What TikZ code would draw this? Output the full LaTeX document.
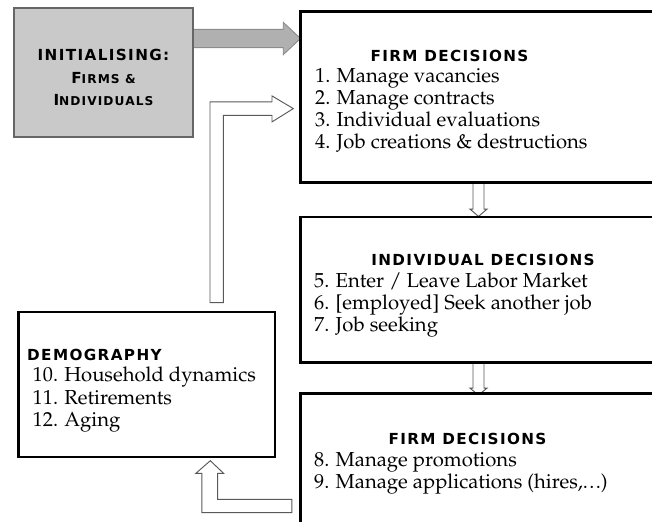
\documentclass[tikz,border=0pt]{standalone}
\usepackage{fontspec}
\usepackage[T1]{fontenc}
\usepackage{mathpazo}
\newfontfamily\capsfont[LetterSpace=9]{DejaVu Sans}
\usetikzlibrary{fit,backgrounds}

\newcommand{\smallcap}[2]{#1{\fontsize{10.4}{11}\selectfont #2}}

\tikzset{
  box/.style={draw, line width=2.4pt, fill=white, inner sep=0pt},
  initbox/.style={draw=black!60, line width=0.9pt, fill=black!21, inner sep=0pt},
  title/.style={font=\capsfont\bfseries\fontsize{13}{14}\selectfont, inner sep=0pt, anchor=base},
  item/.style={font=\fontsize{17.3}{18.8}\selectfont, inner sep=0pt, anchor=base west},
  hollow/.style={draw=black!65, line width=0.8pt, fill=white},
  grayarrow/.style={draw=black!45, line width=0.8pt, fill=black!31}
}

\begin{document}
\begin{tikzpicture}[x=0.03cm, y=-0.03cm]
    \clip (0,0) rectangle (652,521);

    \node[initbox, fit={(14,8) (193,137)}] (init) {};
    \node[box, fit={(300.5,11.7) (700,182.7)}] (firm1) {};
    \node[box, fit={(300.5,217) (700,362.7)}] (indiv) {};
    \node[box, fit={(300.5,393.5) (700,560)}] (firm2) {};
    \node[box, fit={(18.5,312) (275,457)}] (demo) {};

    \node[title] (inith1) at (103.5,60) {INITIALISING:};
    \node[title] (inith2) at (103.5,83.3) {\smallcap{F}{IRMS \&}};
    \node[title] (inith3) at (103.5,105) {\smallcap{I}{NDIVIDUALS}};

    \node[title] (firm1h) at (449.5,61) {FIRM DECISIONS};
    \foreach \t [count=\i] in {1. Manage vacancies, 2. Manage contracts, 3. Individual evaluations, {4. Job creations \& destructions}}
        \node[item] (fd\i) at (315,60.7+22*\i) {\t};

    \node[title] (indivh) at (483,265) {INDIVIDUAL DECISIONS};
    \foreach \t [count=\i] in {{5. Enter / Leave Labor Market}, {6. [employed] Seek another job}, {7. Job seeking}}
        \node[item] (id\i) at (314,265.3+22*\i) {\t};

    \node[title] (firm2h) at (467.5,444) {FIRM DECISIONS};
    \foreach \t [count=\i] in {{8. Manage promotions}, {9. Manage applications (hires,.\kern1.2pt.\kern1.2pt.)}}
        \node[item] (fp\i) at (314,444.5+22.2*\i) {\t};

    \node[title, anchor=base west] (demoh) at (27,360) {DEMOGRAPHY};
    \foreach \t [count=\i] in {{10. Household dynamics}, {11. Retirements}, {12. Aging}}
        \node[item] (dm\i) at (32.5,359.5+22.4*\i) {\t};

    \coordinate (colA) at (478.5,0);
    \coordinate (colD) at (210,0);
    \coordinate (rowC) at (0,38.5);
    \coordinate (rowE) at (0,499.3);

    \begin{scope}[on background layer]
        \draw[grayarrow] (init.east |- rowC) ++(-1,-9.2) -- ++(90.7,0) -- ++(0,-7) -- ++(17.3,16.2)
            -- ++(-17.3,16.2) -- ++(0,-7) -- ++(-90.7,0) -- cycle;
        \draw[hollow] (colA |- firm1.south) ++(-5.5,-2) -- ++(0,27) -- ++(-3,0) -- ++(8.5,7.3)
            -- ++(8.5,-7.3) -- ++(-3,0) -- ++(0,-27) -- cycle;
        \draw[hollow] (colA |- indiv.south) ++(-5.5,-2) -- ++(0,26) -- ++(-3,0) -- ++(8.5,7)
            -- ++(8.5,-7) -- ++(-3,0) -- ++(0,-26) -- cycle;
        \draw[hollow] (firm2.west |- rowE) ++(-7.2,0) -- ++(-74.3,0) -- ++(0,-26) -- ++(6,0)
            -- ++(-13.3,-12.6) -- ++(-14.4,12.6) -- ++(6,0) -- ++(0,39.4) -- ++(90,0) -- cycle;
        \draw[hollow] (colD |- demo.north) ++(0,-8) -- ++(0,-200.7) -- ++(62,0) -- ++(0,-6)
            -- ++(21.3,12.7) -- ++(-21.3,13.3) -- ++(0,-6.6) -- ++(-48.7,0) -- ++(0,187.3) -- cycle;
    \end{scope}
\end{tikzpicture}
\end{document}
